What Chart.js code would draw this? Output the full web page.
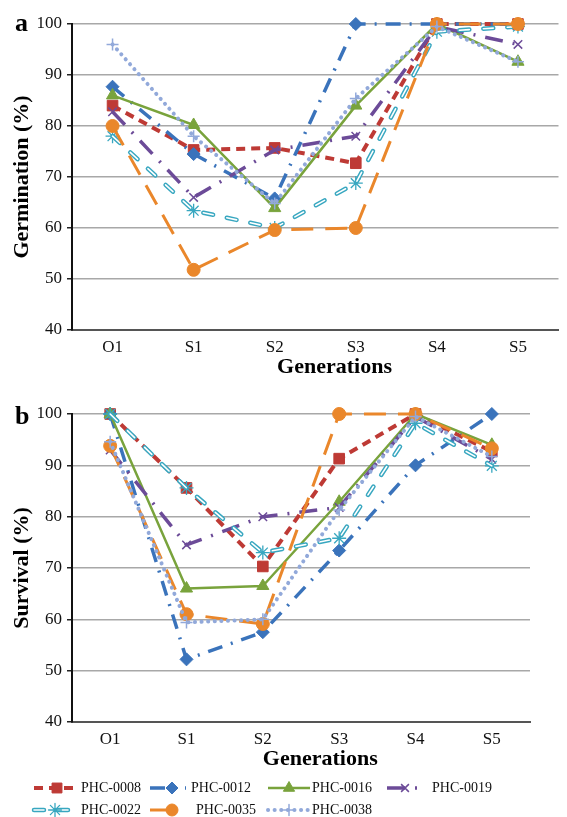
<!DOCTYPE html>
<html>
<head>
<meta charset="utf-8">
<script src="https://cdn.jsdelivr.net/npm/chart.js@4/dist/chart.umd.min.js"></script>
<style>
body { margin:0; background:#fff; }
#page { position:relative; width:567px; height:817px; overflow:hidden; background:#fff; }
#chartA { position:absolute; left:0; top:0; }
#chartB { position:absolute; left:0; top:385px; }
.panel { position:absolute; left:15px; font-family:"Liberation Serif", serif; font-weight:bold; font-size:26px; line-height:26px; color:#000; }
</style>
</head>
<body>
<div id="page">
  <canvas id="chartA" width="567" height="381"></canvas>
  <canvas id="chartB" width="567" height="432"></canvas>
  <div class="panel" style="top:10px;">a</div>
  <div class="panel" style="top:403px;">b</div>
</div>
<script>
var generations = ['O1', 'S1', 'S2', 'S3', 'S4', 'S5'];
var lineNames = ['PHC-0008', 'PHC-0012', 'PHC-0016', 'PHC-0019', 'PHC-0022', 'PHC-0035', 'PHC-0038'];
var yTicks = [40, 50, 60, 70, 80, 90, 100];

// germination (%) - panel a
var germ_0008 = [84, 75.3, 75.7, 72.7, 100, 100];
var germ_0012 = [87.7, 74.5, 65.8, 100, 100, 100];
var germ_0016 = [86, 80.2, 63.9, 84, 100, 92.6];
var germ_0019 = [82.8, 66, 75.3, 78, 99.5, 96];
var germ_0022 = [78, 63.4, 60, 68.8, 98.5, 99.5];
var germ_0035 = [80, 51.8, 59.6, 60, 100, 100];
var germ_0038 = [96, 78, 64.8, 85.4, 99.5, 92.6];

// survival (%) - panel b
var surv_0008 = [100, 85.6, 70.3, 91.3, 100, 92.7];
var surv_0012 = [100, 52.2, 57.5, 73.4, 90, 100];
var surv_0016 = [100, 66, 66.5, 82.9, 100, 94];
var surv_0019 = [93, 74.5, 80, 81.8, 99.5, 91.2];
var surv_0022 = [100, 85.6, 73, 75.8, 98.2, 89.9];
var surv_0035 = [93.8, 61, 59.1, 100, 100, 93.3];
var surv_0038 = [94.6, 59.4, 60, 81.3, 99.5, 91.7];

var serif = '"Liberation Serif", "Times New Roman", serif';

var seriesStyle = [
    { color:'#be3a35', width:4,   dash:[9, 6],          cap:'butt',  point:'rect',     radius:7.5, pw:1 },
    { color:'#3a73bb', width:3.5, dash:[15, 9, 2, 9],   cap:'butt',  point:'rectRot',  radius:6.5, pw:1 },
    { color:'#79a33c', width:2.5, dash:[],              cap:'butt',  point:'triangle', radius:7,   pw:1 },
    { color:'#6c4b98', width:3.5, dash:[18, 10, 2, 10], cap:'butt',  point:'crossRot', radius:6,   pw:1.5 },
    { color:'#38a7c0', width:4.5, dash:[10, 14],        cap:'round', point:'star',     radius:7,   pw:1.3 },
    { color:'#ea872b', width:3,   dash:[22, 12],        cap:'butt',  point:'circle',   radius:6.5, pw:1 },
    { color:'#92a9da', width:4,   dash:[0.1, 6.5],      cap:'round', point:'cross',    radius:6,   pw:1.5 }
];

function buildDatasets(values) {
    var ds = [];
    for (var i = 0; i < lineNames.length; i++) {
        var st = seriesStyle[i];
        ds.push({
            label: lineNames[i],
            data: values[i],
            borderColor: st.color,
            backgroundColor: st.color,
            borderWidth: st.width,
            borderDash: st.dash,
            borderCapStyle: st.cap,
            borderJoinStyle: 'round',
            pointStyle: st.point,
            pointRadius: st.radius,
            pointHoverRadius: st.radius,
            pointBorderWidth: st.pw,
            pointBorderColor: st.color,
            pointBackgroundColor: st.color,
            tension: 0,
            fill: false,
            clip: false,
            order: lineNames.length - i
        });
        // hollow look of the PHC-0022 dashes
        if (i === 4) {
            ds.push({
                label: '',
                data: values[i],
                borderColor: '#ffffff',
                borderWidth: 1.6,
                borderDash: st.dash,
                borderCapStyle: 'round',
                pointRadius: 0,
                pointHoverRadius: 0,
                tension: 0,
                fill: false,
                clip: false,
                order: lineNames.length - i - 0.5
            });
        }
    }
    return ds;
}

function makeScales(yTitle) {
    return {
        x: {
            offset: true,
            grid: { display: false, drawTicks: false, offset: true },
            border: { display: true, color: '#555555', width: 2 },
            ticks: { font: { family: serif, size: 17 }, color: '#111', padding: 7 },
            title: {
                display: true,
                text: '       Generations',
                font: { family: serif, size: 22, weight: 'bold' },
                color: '#000',
                padding: 0
            },
            afterFit: function(s) { s.height = 51; }
        },
        y: {
            min: 40,
            max: 100,
            afterBuildTicks: function(s) {
                s.ticks = yTicks.map(function(v) { return { value: v }; });
            },
            ticks: { font: { family: serif, size: 17 }, color: '#111', padding: 5 },
            grid: { color: '#a8a8a8', lineWidth: 1.5, drawTicks: true, tickLength: 5, tickColor: '#222', tickWidth: 1.5 },
            border: { display: true, color: '#111', width: 2 },
            title: {
                display: true,
                text: yTitle,
                font: { family: serif, size: 22, weight: 'bold' },
                color: '#000',
                padding: { top: 9, bottom: 0 }
            },
            afterFit: function(s) { s.width = 72; }
        }
    };
}

// legend under panel b, laid out in the same grid as the original figure
var legendSlots = [
    { row: 0, x1: 34,  x2: 78,  mx: 57,  tx: 81 },
    { row: 0, x1: 150, x2: 186, mx: 172, tx: 191 },
    { row: 0, x1: 268, x2: 310, mx: 289, tx: 312 },
    { row: 0, x1: 387, x2: 418, mx: 405, tx: 432 },
    { row: 1, x1: 34,  x2: 78,  mx: 55,  tx: 81 },
    { row: 1, x1: 150, x2: 180, mx: 172, tx: 196 },
    { row: 1, x1: 268, x2: 312, mx: 289, tx: 312 }
];
var legendRowsY = [403, 425];

var bottomLegend = {
    id: 'bottomLegend',
    afterDraw: function(chart) {
        var ctx = chart.ctx;
        ctx.save();
        for (var i = 0; i < lineNames.length; i++) {
            var st = seriesStyle[i];
            var slot = legendSlots[i];
            var y = legendRowsY[slot.row];

            ctx.beginPath();
            ctx.setLineDash(st.dash);
            ctx.lineCap = st.cap;
            ctx.lineWidth = st.width;
            ctx.strokeStyle = st.color;
            ctx.moveTo(slot.x1, y);
            ctx.lineTo(slot.x2, y);
            ctx.stroke();
            if (i === 4) {
                ctx.beginPath();
                ctx.lineWidth = 1.6;
                ctx.strokeStyle = '#ffffff';
                ctx.moveTo(slot.x1, y);
                ctx.lineTo(slot.x2, y);
                ctx.stroke();
            }
            ctx.setLineDash([]);

            ctx.fillStyle = st.color;
            ctx.strokeStyle = st.color;
            ctx.lineWidth = st.pw;
            Chart.helpers.drawPoint(ctx, { pointStyle: st.point, radius: st.radius - 0.5, borderWidth: st.pw, rotation: 0 }, slot.mx, y);

            ctx.fillStyle = '#111';
            ctx.font = '14px ' + serif;
            ctx.textAlign = 'left';
            ctx.textBaseline = 'middle';
            ctx.fillText(lineNames[i], slot.tx, y + 0.5);
        }
        ctx.restore();
    }
};

var germValues = [germ_0008, germ_0012, germ_0016, germ_0019, germ_0022, germ_0035, germ_0038];
var survValues = [surv_0008, surv_0012, surv_0016, surv_0019, surv_0022, surv_0035, surv_0038];

var chartA = new Chart(document.getElementById('chartA').getContext('2d'), {
    type: 'line',
    data: { labels: generations, datasets: buildDatasets(germValues) },
    options: {
        responsive: false,
        animation: false,
        layout: { padding: { top: 24, right: 0, bottom: 0, left: 0 } },
        plugins: { legend: { display: false }, tooltip: { enabled: false } },
        scales: makeScales('Germination (%)')
    }
});

var chartB = new Chart(document.getElementById('chartB').getContext('2d'), {
    type: 'line',
    data: { labels: generations, datasets: buildDatasets(survValues) },
    options: {
        responsive: false,
        animation: false,
        layout: { padding: { top: 29, right: 37, bottom: 44, left: 0 } },
        plugins: { legend: { display: false }, tooltip: { enabled: false } },
        scales: makeScales('Survival (%)')
    },
    plugins: [bottomLegend]
});
</script>
</body>
</html>
